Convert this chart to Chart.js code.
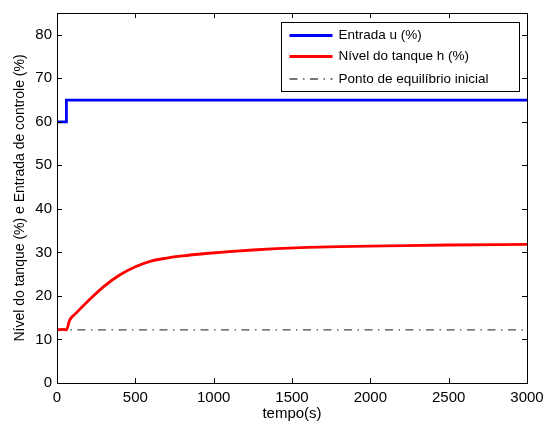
<!DOCTYPE html>
<html>
<head>
<meta charset="utf-8">
<script src="https://cdn.jsdelivr.net/npm/chart.js@4/dist/chart.umd.min.js"></script>
<style>
html,body{margin:0;padding:0;background:#fff;}
#wrap{width:546px;height:421px;position:relative;}
</style>
</head>
<body>
<div id="wrap"><canvas id="c" width="546" height="421"></canvas></div>
<script>
// ---- data ----
const seriesLabels = ['Entrada u (%)', 'Nível do tanque h (%)', 'Ponto de equilíbrio inicial'];
const uTime   = [0, 60, 60, 3000];
const uValues = [60, 60, 65, 65];
const hTime   = [0, 40, 60, 80, 120, 200, 300, 400, 500, 600, 700, 800, 950, 1100, 1250, 1400, 1600, 1800, 2100, 2500, 3000];
const hValues = [12.2, 12.3, 12.2, 14.4, 16.0, 18.9, 22.2, 24.8, 26.7, 28.0, 28.7, 29.2, 29.75, 30.2, 30.55, 30.85, 31.15, 31.35, 31.5, 31.7, 31.85];
const eqTime   = [0, 3000];
const eqValues = [12.2, 12.2];
const xTicks = [0, 500, 1000, 1500, 2000, 2500, 3000];
const yTicks = [0, 10, 20, 30, 40, 50, 60, 70, 80];
const xTitle = 'tempo(s)';
const yTitle = 'Nível do tanque (%) e Entrada de controle (%)';

const FONT = '"Liberation Sans", Arial, Helvetica, sans-serif';
const pts = (xs, ys) => xs.map((x, i) => ({x: x, y: ys[i]}));

const boxPlugin = {
  id: 'boxPlugin',
  afterDatasetsDraw(chart) {
    const {ctx, chartArea: a, scales} = chart;
    ctx.save();
    ctx.strokeStyle = '#000';
    ctx.lineWidth = 1;
    const L = 5;
    ctx.beginPath();
    scales.x.ticks.forEach(t => {
      const px = Math.round(scales.x.getPixelForValue(t.value)) + 0.5;
      ctx.moveTo(px, a.bottom); ctx.lineTo(px, a.bottom - L);
      ctx.moveTo(px, a.top); ctx.lineTo(px, a.top + L);
    });
    scales.y.ticks.forEach(t => {
      const py = Math.round(scales.y.getPixelForValue(t.value)) + 0.5;
      ctx.moveTo(a.left, py); ctx.lineTo(a.left + L, py);
      ctx.moveTo(a.right, py); ctx.lineTo(a.right - L, py);
    });
    ctx.stroke();
    ctx.strokeRect(Math.round(a.left) + 0.5, Math.round(a.top) + 0.5, Math.round(a.right - a.left), Math.round(a.bottom - a.top));

    // legend box
    const bw = 238, bh = 69;
    const bx = Math.round(a.right - 8 - bw) + 0.5, by = Math.round(a.top + 9) + 0.5;
    ctx.fillStyle = '#fff';
    ctx.fillRect(bx, by, bw, bh);
    ctx.strokeRect(bx, by, bw, bh);
    ctx.font = '13.5px ' + FONT;
    ctx.textBaseline = 'middle';
    ctx.textAlign = 'left';
    const rowsY = [13, 34, 56.5];
    chart.data.datasets.forEach((ds, i) => {
      const y = by + rowsY[i];
      ctx.save();
      ctx.strokeStyle = ds.borderColor;
      ctx.lineWidth = ds.borderWidth;
      ctx.setLineDash(ds.borderDash || []);
      ctx.beginPath();
      ctx.moveTo(bx + 8, y); ctx.lineTo(bx + 51, y);
      ctx.stroke();
      ctx.restore();
      ctx.fillStyle = '#000';
      ctx.fillText(ds.label, bx + 57, y);
    });
    ctx.restore();
  }
};

const plain = v => String(v);

new Chart(document.getElementById('c'), {
  type: 'line',
  data: {
    datasets: [
      {label: seriesLabels[0], data: pts(uTime, uValues), borderColor: '#0000ff', borderWidth: 2.8, pointRadius: 0, tension: 0, order: 1},
      {label: seriesLabels[1], data: pts(hTime, hValues), borderColor: '#ff0000', borderWidth: 2.8, pointRadius: 0, cubicInterpolationMode: 'monotone', order: 2},
      {label: seriesLabels[2], data: pts(eqTime, eqValues), borderColor: '#4a4a4a', borderWidth: 1.3, borderDash: [8, 5.5, 1.5, 5.5], pointRadius: 0, order: 3}
    ]
  },
  options: {
    responsive: false,
    animation: false,
    layout: {padding: {top: 13, right: 19, left: 0, bottom: 0}},
    plugins: {legend: {display: false}, tooltip: {enabled: false}},
    scales: {
      x: {
        type: 'linear', min: 0, max: 3000,
        afterBuildTicks: s => { s.ticks = xTicks.map(v => ({value: v})); },
        afterFit: s => { s.height = 38; s.paddingLeft = 0; s.paddingRight = 0; },
        grid: {display: false, drawTicks: false},
        border: {display: false},
        ticks: {color: '#000', font: {family: FONT, size: 15}, padding: 6, maxRotation: 0, autoSkip: false, callback: plain},
        title: {display: true, text: xTitle, color: '#000', font: {family: FONT, size: 15, lineHeight: 1}, padding: 0}
      },
      y: {
        type: 'linear', min: 0, max: 85,
        afterBuildTicks: s => { s.ticks = yTicks.map(v => ({value: v})); },
        afterFit: s => { s.width = 57; s.paddingTop = 0; s.paddingBottom = 0; },
        grid: {display: false, drawTicks: false},
        border: {display: false},
        ticks: {color: '#000', font: {family: FONT, size: 15}, padding: 5, autoSkip: false, callback: plain},
        title: {display: true, text: yTitle, color: '#000', font: {family: FONT, size: 14, lineHeight: 1.2}, padding: {top: 12, bottom: 0}}
      }
    }
  },
  plugins: [boxPlugin]
});
</script>
</body>
</html>
